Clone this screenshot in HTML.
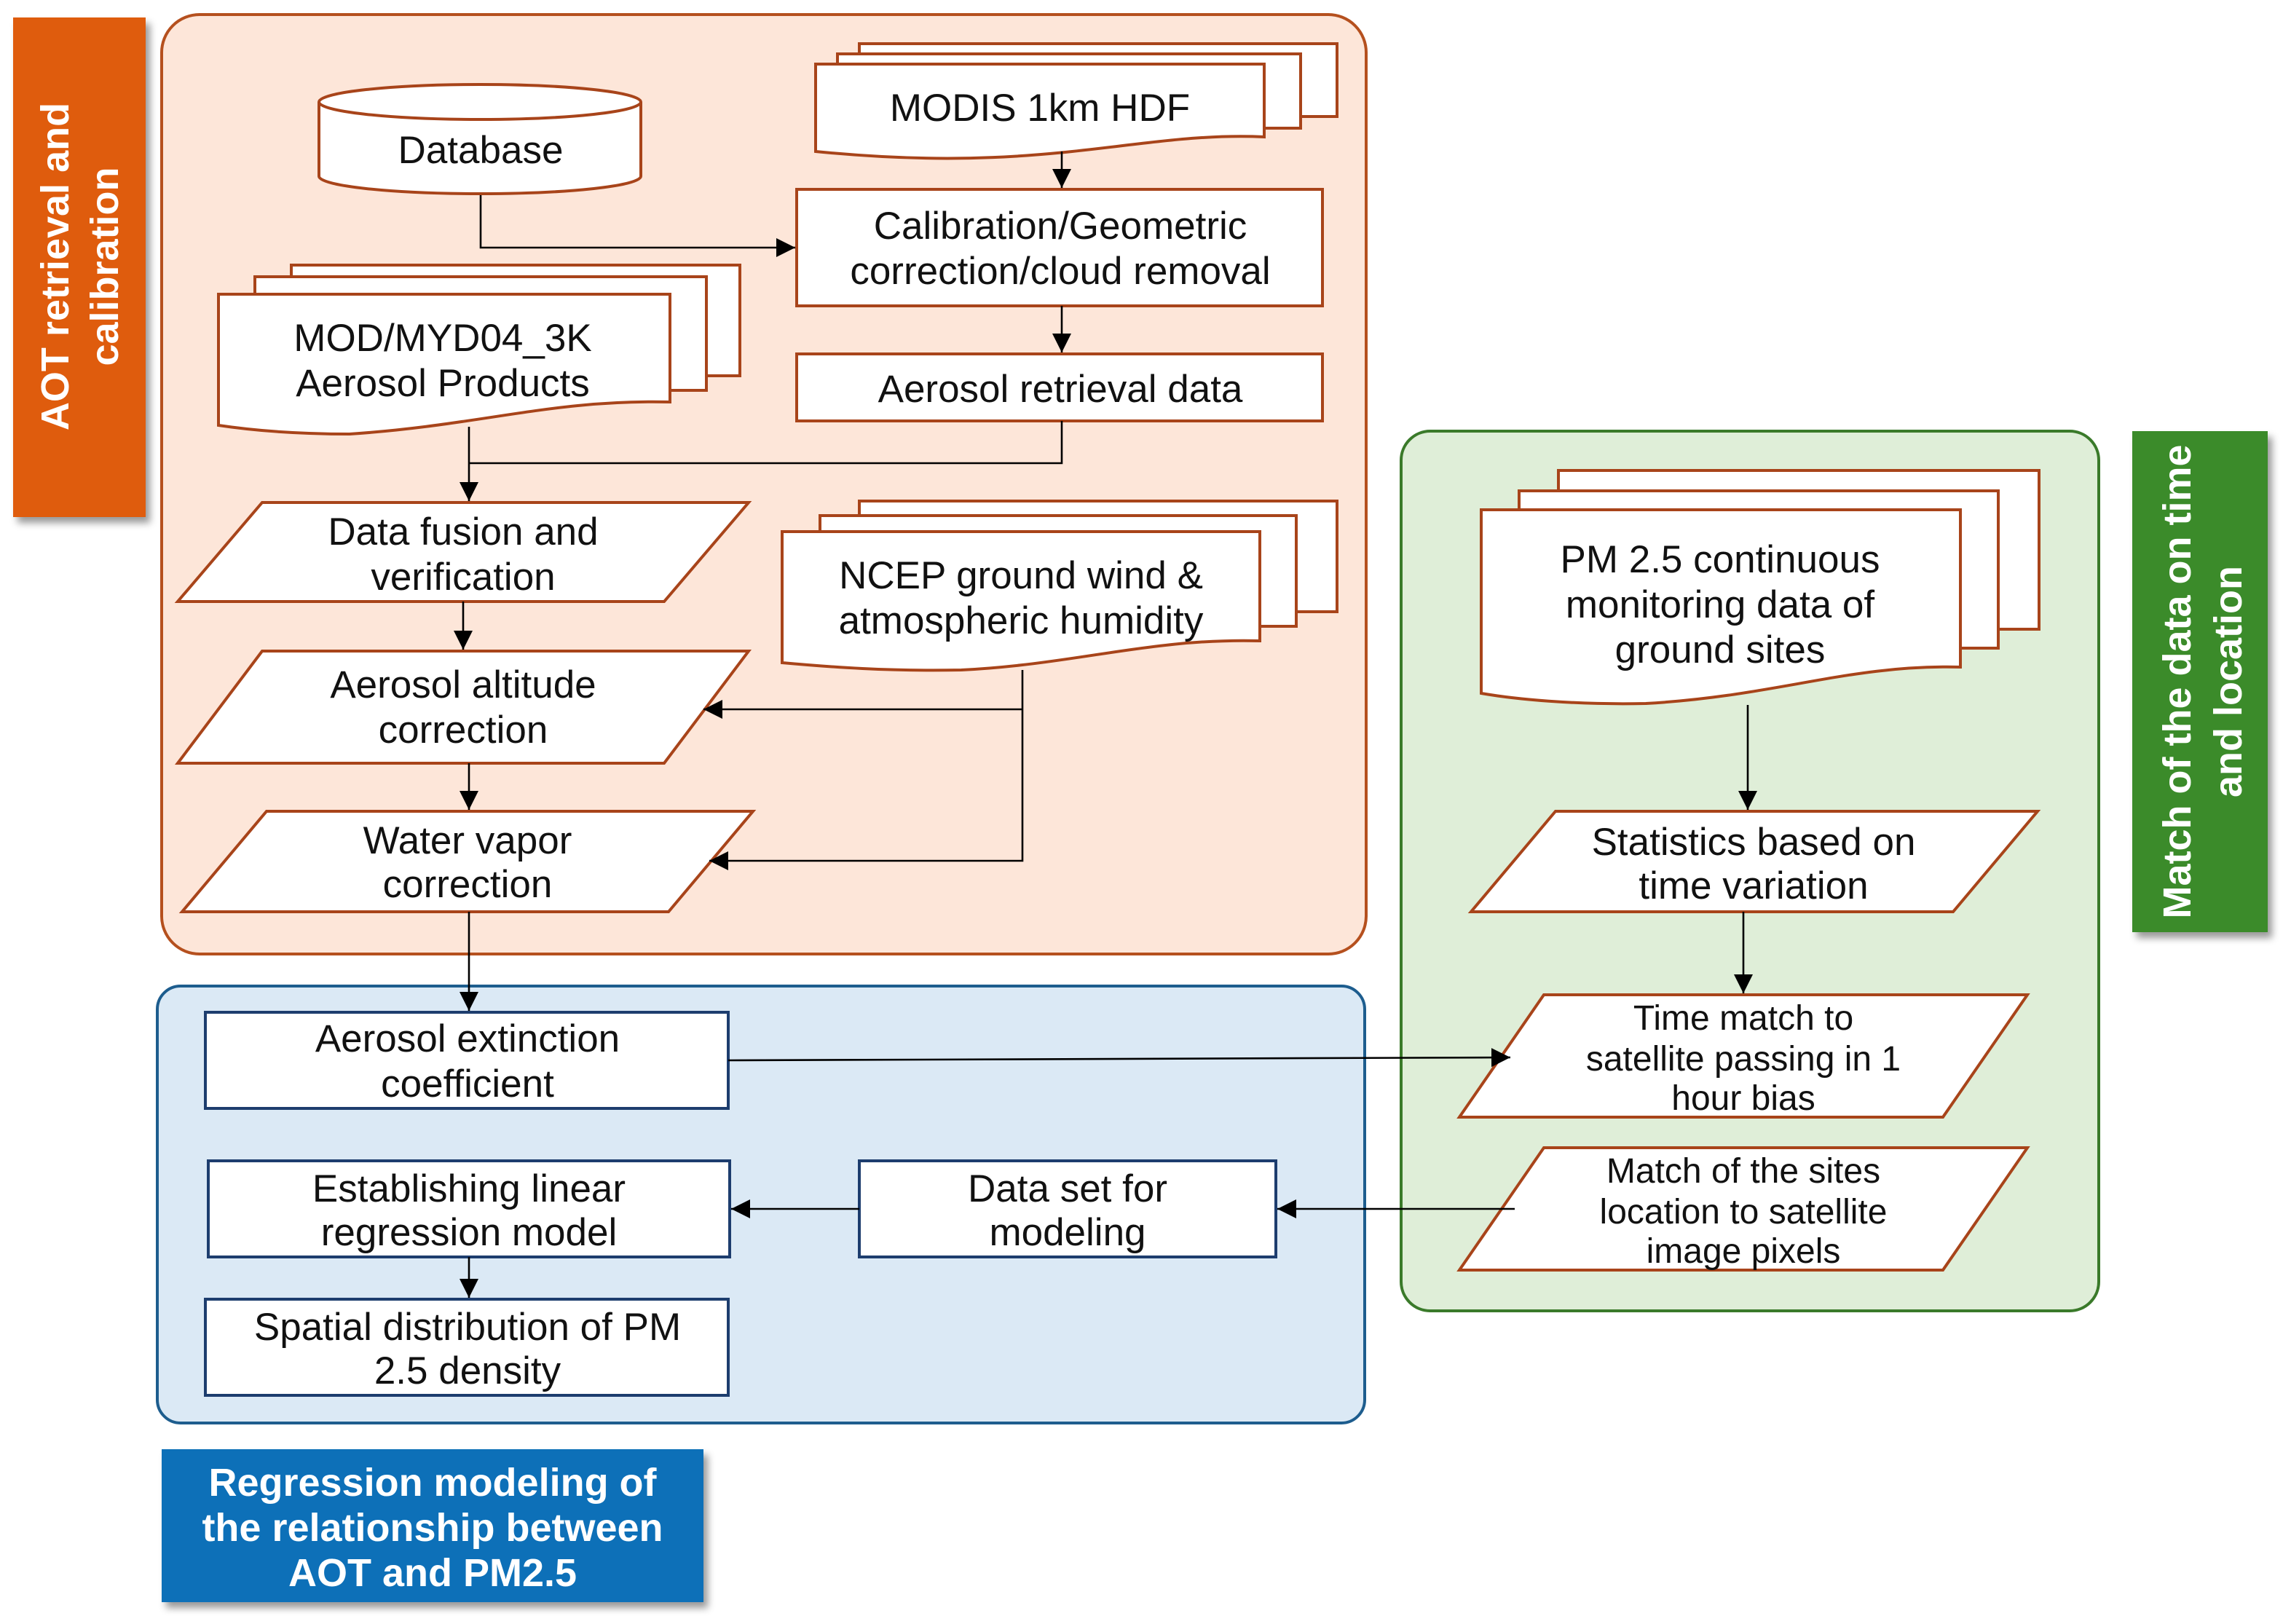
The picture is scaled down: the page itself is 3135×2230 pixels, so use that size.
<!DOCTYPE html>
<html><head><meta charset="utf-8"><style>
html,body{margin:0;padding:0;background:#fff;}
svg{display:block;}
text{font-family:"Liberation Sans",Arial,sans-serif;font-size:26.5px;fill:#111;text-anchor:middle;}
.lbl{fill:#fff;font-weight:bold;font-size:27px;}
.s{font-size:24px;}
</style></head><body>
<svg width="3135" height="2230" viewBox="0 0 1567.5 1115" xmlns="http://www.w3.org/2000/svg">
<defs>
<marker id="ar" markerWidth="14" markerHeight="14" refX="13" refY="6.5" orient="auto" markerUnits="userSpaceOnUse">
<path d="M0,0 L13,6.5 L0,13 z" fill="#000"/></marker>
<filter id="sh"><feDropShadow dx="3" dy="4" stdDeviation="2.5" flood-opacity="0.4"/></filter>
</defs>

<rect x="111" y="10" width="827" height="645" rx="26" fill="#fde6d9" stroke="#b5501e" stroke-width="2"/>
<rect x="108" y="677" width="829" height="300" rx="16" fill="#dbe9f5" stroke="#1d5d8e" stroke-width="2"/>
<rect x="962" y="296" width="479" height="604" rx="20" fill="#dfeed8" stroke="#3a7a2a" stroke-width="2"/>

<rect x="9" y="12" width="91" height="343" fill="#df5b0b" filter="url(#sh)"/>
<text class="lbl" transform="translate(47,183) rotate(-90)">AOT retrieval and</text>
<text class="lbl" transform="translate(81,183) rotate(-90)">calibration</text>
<rect x="1464" y="296" width="93" height="344" fill="#3a8b2a" filter="url(#sh)"/>
<text class="lbl" transform="translate(1504,468) rotate(-90)">Match of the data on time</text>
<text class="lbl" transform="translate(1539,468) rotate(-90)">and location</text>
<rect x="111" y="995" width="372" height="105" fill="#0b6fb8" filter="url(#sh)"/>
<text class="lbl" x="297" y="1027">Regression modeling of</text>
<text class="lbl" x="297" y="1058">the relationship between</text>
<text class="lbl" x="297" y="1089">AOT and PM2.5</text>

<g fill="#fff" stroke="#a8441a" stroke-width="2">
<path d="M219,70 L219,121 A110.5,12 0 0 0 440,121 L440,70"/>
<ellipse cx="329.5" cy="70" rx="110.5" ry="12"/>
<path d="M590,30 L918,30 L918,80 L590,80 Z"/>
<path d="M575,37 L893,37 L893,88 L575,88 Z"/>
<path d="M560,44 L868,44 L868,94 C780,90 720,120 560,104 Z"/>
<path d="M200,182 L508,182 L508,258 L200,258 Z"/>
<path d="M175,190 L485,190 L485,268 L175,268 Z"/>
<path d="M150,202 L460,202 L460,276 C380,274 330,292 240,298 C200,298 170,295 150,292 Z"/>
<path d="M590,344 L918,344 L918,420 L590,420 Z"/>
<path d="M563,354 L890,354 L890,430 L563,430 Z"/>
<path d="M537,365 L865,365 L865,440 C790,438 740,456 660,460 C610,461 570,458 537,455 Z"/>
<path d="M1070,323 L1400,323 L1400,432 L1070,432 Z"/>
<path d="M1043,337 L1372,337 L1372,445 L1043,445 Z"/>
<path d="M1017,350 L1346,350 L1346,458 C1270,456 1220,478 1130,483 C1080,484 1040,480 1017,476 Z"/>
<rect x="547" y="130" width="361" height="80"/>
<rect x="547" y="243" width="361" height="46"/>
<rect x="141" y="695" width="359" height="66" stroke="#1d3d6e"/>
<rect x="143" y="797" width="358" height="66" stroke="#1d3d6e"/>
<rect x="141" y="892" width="359" height="66" stroke="#1d3d6e"/>
<rect x="590" y="797" width="286" height="66" stroke="#1d3d6e"/>
<path d="M180,345 L514,345 L456,413 L122,413 Z"/>
<path d="M180,447 L514,447 L456,524 L122,524 Z"/>
<path d="M183,557 L517,557 L459,626 L125,626 Z"/>
<path d="M1068,557 L1399,557 L1341,626 L1010,626 Z"/>
<path d="M1060,683 L1392,683 L1334,767 L1002,767 Z"/>
<path d="M1060,788 L1392,788 L1334,872 L1002,872 Z"/>
</g>

<g fill="none" stroke="#000" stroke-width="1.3">
<path d="M330,134 L330,170 L546,170" marker-end="url(#ar)"/>
<path d="M729,104 L729,129" marker-end="url(#ar)"/>
<path d="M729,210 L729,242" marker-end="url(#ar)"/>
<path d="M729,289 L729,318 L322,318"/>
<path d="M322,293 L322,344" marker-end="url(#ar)"/>
<path d="M318,413 L318,446" marker-end="url(#ar)"/>
<path d="M322,524 L322,556" marker-end="url(#ar)"/>
<path d="M702,460 L702,591 L487,591" marker-end="url(#ar)"/>
<path d="M702,487 L483,487" marker-end="url(#ar)"/>
<path d="M322,626 L322,694" marker-end="url(#ar)"/>
<path d="M500,728 L1037,726" marker-end="url(#ar)"/>
<path d="M1200,484 L1200,556" marker-end="url(#ar)"/>
<path d="M1197,626 L1197,682" marker-end="url(#ar)"/>
<path d="M1040,830 L877,830" marker-end="url(#ar)"/>
<path d="M590,830 L502,830" marker-end="url(#ar)"/>
<path d="M322,863 L322,891" marker-end="url(#ar)"/>
</g>

<text x="330" y="112">Database</text>
<text x="714" y="83">MODIS 1km HDF</text>
<text x="728" y="164">Calibration/Geometric</text>
<text x="728" y="195">correction/cloud removal</text>
<text x="728" y="276">Aerosol retrieval data</text>
<text x="304" y="241">MOD/MYD04_3K</text>
<text x="304" y="272">Aerosol Products</text>
<text x="318" y="374">Data fusion and</text>
<text x="318" y="405">verification</text>
<text x="318" y="479">Aerosol altitude</text>
<text x="318" y="510">correction</text>
<text x="321" y="586">Water vapor</text>
<text x="321" y="616">correction</text>
<text x="701" y="404">NCEP ground wind &amp;</text>
<text x="701" y="435">atmospheric humidity</text>
<text x="1181" y="393">PM 2.5 continuous</text>
<text x="1181" y="424">monitoring data of</text>
<text x="1181" y="455">ground sites</text>
<text x="1204" y="587">Statistics based on</text>
<text x="1204" y="617">time variation</text>
<text class="s" x="1197" y="707">Time match to</text>
<text class="s" x="1197" y="735">satellite passing in 1</text>
<text class="s" x="1197" y="762">hour bias</text>
<text class="s" x="1197" y="812">Match of the sites</text>
<text class="s" x="1197" y="840">location to satellite</text>
<text class="s" x="1197" y="867">image pixels</text>
<text x="321" y="722">Aerosol extinction</text>
<text x="321" y="753">coefficient</text>
<text x="322" y="825">Establishing linear</text>
<text x="322" y="855">regression model</text>
<text x="321" y="920">Spatial distribution of PM</text>
<text x="321" y="950">2.5 density</text>
<text x="733" y="825">Data set for</text>
<text x="733" y="855">modeling</text>
</svg>
</body></html>
